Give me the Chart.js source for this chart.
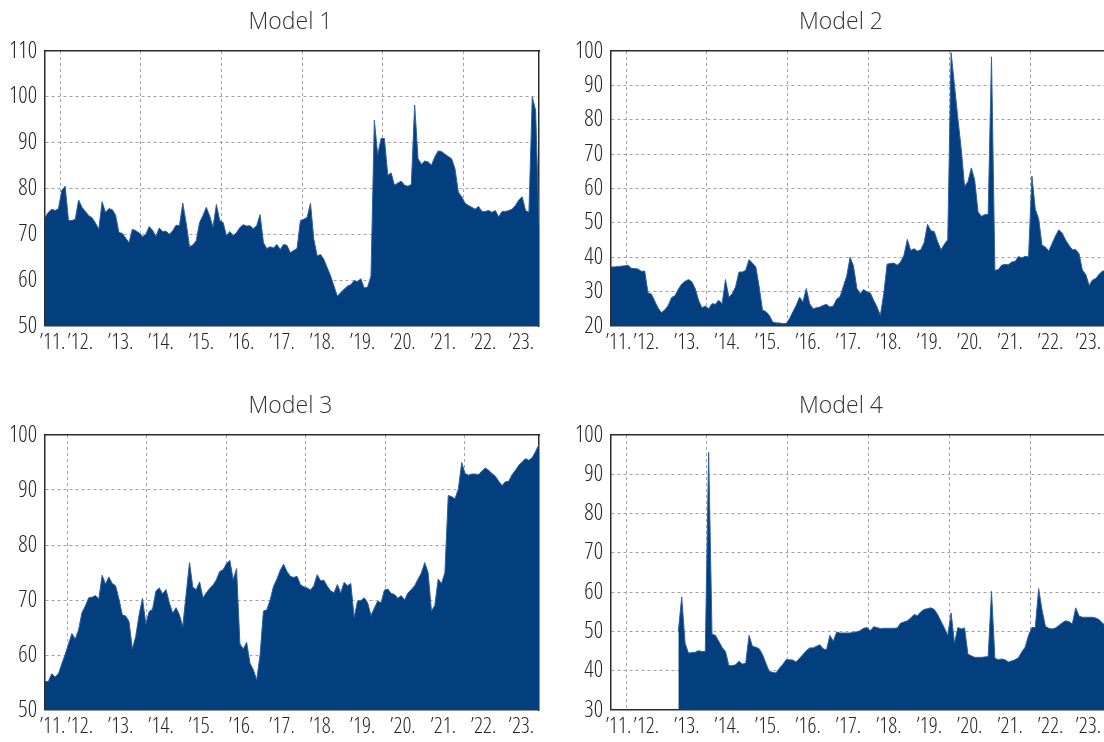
<!DOCTYPE html>
<html>
<head>
<meta charset="utf-8">
<title>Model 1–4</title>
<script src="https://cdn.jsdelivr.net/npm/chart.js@4.4.1/dist/chart.umd.min.js"></script>
<style>
  html, body { margin: 0; padding: 0; background: #fff; width: 1104px; height: 742px; overflow: hidden; }
  canvas { position: absolute; }
</style>
</head>
<body>
<canvas id="m1" width="581" height="360" style="left:0;top:0"></canvas>
<canvas id="m2" width="530" height="360" style="left:576px;top:0"></canvas>
<canvas id="m3" width="581" height="360" style="left:0;top:384px"></canvas>
<canvas id="m4" width="530" height="360" style="left:576px;top:384px"></canvas>
<script>
// Monthly readings, August 2011 – November 2023
const years = [2011, 2012, 2013, 2014, 2015, 2016, 2017, 2018, 2019, 2020, 2021, 2022, 2023];
const yearLabels = ['’11.', '’12.', '’13.', '’14.', '’15.', '’16.', '’17.', '’18.', '’19.', '’20.', '’21.', '’22.', '’23.'];

const model1 = [
  73.7, 74.8, 75.5, 75.2, 75.6, 79.6, 80.5, 73.0, 73.0, 73.3,
  77.5, 75.9, 75.0, 74.1, 73.6, 72.5, 71.1, 77.1, 74.8, 75.6,
  75.4, 74.2, 70.4, 70.2, 69.2, 68.2, 71.1, 70.8, 70.3, 69.5,
  70.0, 71.7, 70.9, 69.5, 71.4, 70.6, 70.7, 70.0, 70.8, 72.0,
  71.9, 76.8, 72.5, 67.3, 67.7, 68.6, 72.6, 74.1, 75.9, 74.0,
  71.6, 76.5, 73.0, 72.6, 69.7, 70.6, 69.7, 70.4, 71.5, 72.1,
  71.8, 71.9, 71.2, 71.9, 74.3, 68.2, 66.9, 67.3, 67.0, 67.8,
  66.7, 67.8, 67.6, 66.0, 66.5, 66.9, 73.0, 73.3, 73.7, 76.8,
  68.9, 65.3, 65.6, 64.5, 62.7, 60.9, 58.7, 56.5, 57.3, 58.0,
  58.7, 59.0, 59.9, 59.7, 60.3, 58.3, 58.5, 60.9, 94.9, 87.3,
  90.9, 90.9, 82.9, 83.4, 80.7, 81.2, 81.6, 80.7, 80.5, 80.9,
  98.2, 86.5, 85.3, 86.0, 85.8, 85.1, 86.9, 88.2, 88.1, 87.5,
  87.0, 86.5, 84.3, 79.2, 78.2, 76.8, 76.3, 75.9, 75.5, 76.1,
  75.0, 75.0, 75.2, 74.8, 75.2, 73.8, 75.0, 75.0, 75.2, 75.5,
  76.3, 77.5, 78.2, 75.2, 74.8, 100.0, 97.0, 72.0
];

const model2 = [
  37.2, 37.2, 37.3, 37.4, 37.5, 37.7, 36.8, 36.7, 36.6, 35.9,
  36.0, 29.6, 29.3, 27.2, 25.2, 23.9, 24.7, 26.0, 28.3, 28.8,
  30.7, 32.2, 33.0, 33.5, 32.9, 30.9, 27.5, 25.3, 25.8, 25.0,
  26.5, 26.3, 27.5, 26.5, 33.5, 28.4, 29.4, 31.4, 35.7, 35.7,
  36.2, 39.3, 38.3, 37.2, 31.4, 24.6, 24.2, 23.1, 21.2, 20.9,
  20.9, 20.7, 20.7, 22.1, 24.1, 26.0, 28.4, 27.0, 30.9, 26.5,
  25.0, 25.3, 25.5, 26.0, 26.3, 25.5, 25.8, 27.8, 28.5, 31.5,
  34.5, 40.0, 37.5, 31.0, 29.4, 30.6, 30.0, 29.6, 27.5, 25.5,
  23.1, 29.4, 38.0, 38.2, 38.3, 37.7, 38.6, 40.6, 45.2, 42.0,
  42.5, 41.8, 42.2, 44.3, 49.6, 47.7, 47.5, 44.5, 42.2, 43.8,
  45.1, 99.5, 90.0, 80.5, 71.5, 60.6, 62.0, 66.0, 62.5, 53.2,
  51.9, 52.4, 52.5, 98.3, 36.2, 36.4, 37.7, 37.9, 37.8, 38.6,
  38.8, 40.2, 39.8, 40.3, 40.1, 63.6, 54.0, 51.2, 43.5, 43.0,
  41.8, 44.0, 46.2, 48.0, 47.0, 45.0, 43.5, 42.2, 42.2, 41.0,
  36.2, 35.0, 31.8, 33.4, 33.8, 35.1, 36.0, 36.0
];

const model3 = [
  55.2, 55.2, 56.6, 56.0, 56.6, 58.4, 60.1, 62.0, 63.9, 62.9,
  64.6, 67.7, 68.9, 70.4, 70.5, 70.8, 70.2, 74.5, 72.9, 74.2,
  73.0, 72.6, 70.2, 67.3, 67.1, 66.1, 61.1, 63.4, 67.3, 70.3,
  65.7, 67.9, 68.3, 71.6, 72.2, 71.1, 71.9, 69.5, 67.6, 68.6,
  67.3, 65.2, 71.1, 76.8, 72.3, 71.9, 73.3, 70.4, 71.3, 72.1,
  72.7, 73.7, 75.2, 75.5, 76.6, 77.2, 73.7, 75.7, 62.0, 61.1,
  62.3, 58.5, 57.3, 55.5, 60.0, 68.0, 68.2, 70.0, 72.5, 73.8,
  75.4, 76.5, 75.2, 74.3, 74.1, 74.3, 72.8, 72.4, 72.2, 71.8,
  72.6, 74.6, 73.5, 73.6, 72.5, 71.7, 71.3, 72.8, 71.3, 73.2,
  72.6, 73.0, 66.8, 69.8, 69.9, 70.4, 69.5, 67.2, 68.5, 69.8,
  69.5, 71.8, 72.0, 71.2, 71.0, 70.3, 70.8, 70.0, 71.3, 71.9,
  72.6, 73.8, 74.9, 76.8, 75.0, 68.0, 69.0, 73.8, 73.0, 75.0,
  89.0, 88.8, 88.4, 90.2, 95.0, 93.0, 92.7, 92.9, 92.9, 92.8,
  93.4, 94.0, 93.6, 93.0, 92.5, 91.6, 90.8, 91.5, 91.6, 92.8,
  93.6, 94.5, 95.1, 95.7, 95.4, 95.9, 97.0, 98.3
];

const model4 = [
  null, null, null, null, null, null, null, null, null, null,
  null, null, null, null, null, null, null, null, null, null,
  50.0, 58.8, 47.0, 44.5, 44.6, 44.7, 45.1, 44.9, 44.9, 95.6,
  49.3, 49.0, 47.5, 45.9, 44.9, 41.3, 41.3, 41.5, 42.4, 41.7,
  41.9, 49.0, 46.2, 46.0, 45.6, 44.1, 41.9, 39.8, 39.6, 39.4,
  40.6, 41.6, 42.8, 42.8, 42.7, 42.2, 43.2, 44.1, 45.1, 45.8,
  45.8, 46.2, 46.6, 45.6, 45.3, 49.0, 47.5, 49.8, 49.6, 49.6,
  49.6, 49.6, 49.8, 49.9, 50.2, 50.8, 51.0, 50.2, 51.2, 51.0,
  50.7, 50.8, 50.8, 50.8, 50.8, 50.9, 52.1, 52.4, 52.7, 53.4,
  54.3, 54.0, 55.0, 55.6, 55.8, 56.0, 55.6, 54.3, 52.6, 50.9,
  49.0, 54.7, 47.0, 51.0, 50.6, 50.9, 44.2, 43.8, 43.4, 43.4,
  43.4, 43.5, 43.6, 60.2, 43.2, 42.8, 43.0, 42.8, 42.2, 42.5,
  42.8, 43.3, 44.8, 46.0, 49.0, 51.0, 51.0, 60.9, 55.5, 51.3,
  50.8, 50.6, 50.9, 51.5, 52.2, 52.7, 52.5, 51.9, 56.0, 53.9,
  53.6, 53.6, 53.6, 53.6, 53.4, 53.0, 52.1, 51.3
];

// Month centres as decimal years
const FIRST_MONTH = 2011 + 7.5 / 12;
const months = model1.map((_, i) => FIRST_MONTH + i / 12);
const X_MIN = months[0];
const X_MAX = months[months.length - 1];

const NAVY = '#033e7e';
const EDGE = '#2f5f9f';
const GRID = '#a3a3a3';
const FRAME = '#2b2b2b';
const INK = '#262626';

// Light, narrow face for the axis numbers: try the installed options in turn
const probe = document.createElement('canvas').getContext('2d');
function textWidth(font) { probe.font = font; return probe.measureText('’11. 0123456789').width; }
function installed(name) { return textWidth(`40px "${name}", monospace`) !== textWidth('40px monospace'); }
function hasLight(name) { return textWidth(`300 40px "${name}", monospace`) !== textWidth(`700 40px "${name}", monospace`); }

function chooseTickFont(size) {
  if (textWidth('300 condensed 40px "Open Sans"') < textWidth('300 40px "Open Sans"') - 2) {
    return { family: '"Open Sans", sans-serif', weight: '300 condensed', size };
  }
  if (installed('Open Sans Condensed') && hasLight('Open Sans Condensed')) {
    return { family: '"Open Sans Condensed", sans-serif', weight: '300', size };
  }
  for (const name of ['Roboto Condensed', 'Liberation Sans Narrow', 'Arial Narrow', 'Noto Sans Condensed']) {
    if (installed(name)) return { family: `"${name}", sans-serif`, weight: '300', size };
  }
  if (textWidth('300 condensed 40px "Noto Sans"') < textWidth('300 40px "Noto Sans"') - 2) {
    return { family: '"Noto Sans", sans-serif', weight: '300 condensed', size };
  }
  return { family: 'Roboto, sans-serif', weight: '300', size: Math.round(size * 0.82) };
}
const yTickFont = chooseTickFont(23);
const xTickFont = chooseTickFont(22);
const titleFont = { family: '"Open Sans", Roboto, sans-serif', weight: '300', size: 23 };

function buildPanel(id, cfg) {
  const points = months.map((x, i) => ({ x, y: cfg.values[i] }));

  const labelTicks = years.map((yr, i) => {
    const a = Math.max(yr, X_MIN), b = Math.min(yr + 1, X_MAX);
    return { value: (a + b) / 2, text: yearLabels[i], kind: 'label' };
  });
  const gridTicks = cfg.gridAt.map(v => ({ value: v, kind: 'grid' }));
  const xTicks = labelTicks.concat(gridTicks).sort((p, q) => p.value - q.value);

  return new Chart(document.getElementById(id), {
    type: 'line',
    data: {
      datasets: [{
        data: points,
        fill: 'start',
        backgroundColor: NAVY,
        borderColor: EDGE,
        borderWidth: 1,
        pointRadius: 0,
        tension: 0,
        spanGaps: false
      }]
    },
    options: {
      responsive: false,
      devicePixelRatio: 1,
      animation: false,
      events: [],
      layout: { padding: 0 },
      plugins: {
        legend: { display: false },
        tooltip: { enabled: false },
        title: {
          display: true,
          text: cfg.title,
          color: '#333',
          font: titleFont,
          padding: { top: 9, bottom: 14.4 }
        }
      },
      scales: {
        x: {
          type: 'linear',
          min: X_MIN,
          max: X_MAX,
          afterBuildTicks: s => { s.ticks = xTicks.map(t => ({ ...t })); },
          afterFit: s => { s.height = 34; },
          ticks: {
            autoSkip: false,
            maxRotation: 0,
            minRotation: 0,
            padding: 4,
            color: INK,
            font: xTickFont,
            callback: (v, i, t) => t[i].text || ''
          },
          grid: {
            drawTicks: false,
            color: GRID,
            lineWidth: c => (c.tick && c.tick.kind === 'grid') ? 1 : 0
          },
          border: { color: FRAME, width: 1.5, dash: [3, 3] }
        },
        y: {
          min: cfg.yMin,
          max: cfg.yMax,
          afterFit: s => { s.width = cfg.yWidth; },
          ticks: { stepSize: 10, padding: 8, color: INK, font: yTickFont, autoSkip: false },
          grid: {
            drawTicks: false,
            color: GRID,
            lineWidth: c => (c.tick && c.tick.value > cfg.yMin && c.tick.value < cfg.yMax) ? 1 : 0
          },
          border: { color: FRAME, width: 1.5, dash: [3, 3] }
        },
        xTop: {
          type: 'linear',
          position: 'top',
          min: 0,
          max: 1,
          afterFit: s => { s.height = 0; },
          ticks: { display: false },
          grid: { display: false, drawTicks: false },
          border: { color: FRAME, width: 1.5 }
        },
        yRight: {
          type: 'linear',
          position: 'right',
          display: cfg.rightGap > 0,
          min: 0,
          max: 1,
          afterFit: s => { s.width = cfg.rightGap; },
          ticks: { display: false },
          grid: { display: false, drawTicks: false },
          border: { color: FRAME, width: 1.5 }
        }
      }
    }
  });
}

const evenYears = [2012, 2014, 2016, 2018, 2020, 2022];
const shiftedGrid = [2012.19, 2014.15, 2016.13, 2018.09, 2020.06, 2022.02];

buildPanel('m1', { title: 'Model 1', values: model1, yMin: 50, yMax: 110, yWidth: 45, rightGap: 42, gridAt: evenYears });
buildPanel('m2', { title: 'Model 2', values: model2, yMin: 20, yMax: 100, yWidth: 35, rightGap: 0, gridAt: evenYears });
buildPanel('m3', { title: 'Model 3', values: model3, yMin: 50, yMax: 100, yWidth: 45, rightGap: 42, gridAt: shiftedGrid });
buildPanel('m4', { title: 'Model 4', values: model4, yMin: 30, yMax: 100, yWidth: 35, rightGap: 0, gridAt: evenYears });
</script>
</body>
</html>
